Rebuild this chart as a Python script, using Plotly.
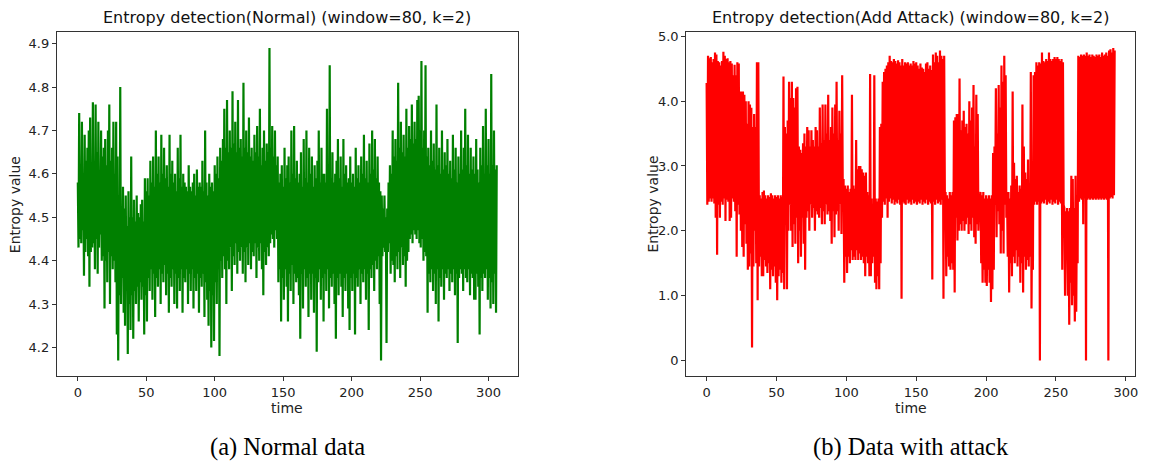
import plotly.graph_objects as go

# ---------------- data (time step 0.5) ----------------
normal_values = [
    4.58, 4.43, 4.74, 4.45, 4.62, 4.44, 4.72, 4.47, 4.60, 4.365, 4.69, 4.42, 4.63, 4.45, 4.66, 4.41, 4.70, 4.34, 4.73, 4.42,
    4.62, 4.43, 4.765, 4.44, 4.60, 4.38, 4.76, 4.45, 4.65, 4.37, 4.72, 4.43, 4.60, 4.46, 4.70, 4.40, 4.64, 4.41, 4.66, 4.29,
    4.68, 4.40, 4.62, 4.35, 4.70, 4.42, 4.76, 4.30, 4.63, 4.41, 4.66, 4.38, 4.72, 4.40, 4.60, 4.35, 4.72, 4.23, 4.64, 4.17,
    4.55, 4.32, 4.80, 4.30, 4.50, 4.36, 4.57, 4.28, 4.52, 4.25, 4.55, 4.33, 4.48, 4.185, 4.56, 4.30, 4.50, 4.24, 4.64, 4.32,
    4.50, 4.22, 4.54, 4.33, 4.49, 4.30, 4.55, 4.34, 4.51, 4.26, 4.50, 4.35, 4.53, 4.31, 4.54, 4.34, 4.49, 4.23, 4.59, 4.32,
    4.56, 4.26, 4.59, 4.36, 4.55, 4.33, 4.63, 4.38, 4.58, 4.31, 4.64, 4.37, 4.57, 4.27, 4.70, 4.36, 4.60, 4.34, 4.64, 4.38,
    4.58, 4.30, 4.69, 4.37, 4.60, 4.35, 4.66, 4.39, 4.59, 4.32, 4.62, 4.37, 4.57, 4.28, 4.69, 4.36, 4.60, 4.34, 4.63, 4.38,
    4.58, 4.30, 4.60, 4.37, 4.56, 4.29, 4.66, 4.36, 4.59, 4.33, 4.69, 4.38, 4.57, 4.28, 4.60, 4.36, 4.58, 4.35, 4.57, 4.38,
    4.56, 4.30, 4.62, 4.37, 4.57, 4.33, 4.56, 4.38, 4.58, 4.29, 4.60, 4.36, 4.55, 4.33, 4.61, 4.37, 4.57, 4.28, 4.58, 4.36,
    4.57, 4.34, 4.63, 4.37, 4.56, 4.27, 4.70, 4.35, 4.58, 4.31, 4.55, 4.25, 4.60, 4.33, 4.57, 4.20, 4.58, 4.32, 4.56, 4.215,
    4.62, 4.35, 4.60, 4.30, 4.64, 4.38, 4.59, 4.18, 4.66, 4.40, 4.63, 4.36, 4.68, 4.41, 4.75, 4.38, 4.66, 4.30, 4.77, 4.40,
    4.65, 4.38, 4.70, 4.43, 4.66, 4.33, 4.79, 4.41, 4.67, 4.39, 4.72, 4.44, 4.65, 4.37, 4.77, 4.42, 4.66, 4.40, 4.68, 4.43,
    4.64, 4.37, 4.81, 4.42, 4.66, 4.35, 4.70, 4.43, 4.65, 4.39, 4.73, 4.44, 4.64, 4.38, 4.66, 4.42, 4.63, 4.41, 4.69, 4.44,
    4.65, 4.36, 4.71, 4.43, 4.64, 4.40, 4.75, 4.44, 4.62, 4.38, 4.66, 4.32, 4.70, 4.42, 4.63, 4.39, 4.67, 4.43, 4.65, 4.41,
    4.89, 4.44, 4.66, 4.46, 4.71, 4.45, 4.64, 4.43, 4.70, 4.47, 4.62, 4.45, 4.64, 4.35, 4.58, 4.38, 4.60, 4.26, 4.62, 4.36,
    4.57, 4.31, 4.66, 4.38, 4.59, 4.34, 4.62, 4.26, 4.64, 4.37, 4.58, 4.33, 4.70, 4.39, 4.60, 4.30, 4.71, 4.37, 4.59, 4.35,
    4.63, 4.36, 4.58, 4.32, 4.60, 4.22, 4.65, 4.37, 4.57, 4.29, 4.68, 4.38, 4.59, 4.34, 4.70, 4.36, 4.58, 4.27, 4.66, 4.37,
    4.60, 4.31, 4.64, 4.37, 4.57, 4.28, 4.62, 4.36, 4.59, 4.19, 4.63, 4.35, 4.70, 4.38, 4.58, 4.31, 4.66, 4.36, 4.60, 4.26,
    4.60, 4.37, 4.58, 4.33, 4.75, 4.38, 4.61, 4.29, 4.85, 4.36, 4.59, 4.34, 4.65, 4.37, 4.58, 4.30, 4.60, 4.22, 4.63, 4.36,
    4.68, 4.32, 4.59, 4.37, 4.64, 4.34, 4.57, 4.27, 4.68, 4.36, 4.60, 4.33, 4.62, 4.37, 4.58, 4.29, 4.59, 4.24, 4.64, 4.36,
    4.58, 4.33, 4.60, 4.37, 4.57, 4.23, 4.66, 4.36, 4.59, 4.34, 4.62, 4.38, 4.58, 4.30, 4.64, 4.37, 4.60, 4.35, 4.69, 4.38,
    4.59, 4.31, 4.63, 4.37, 4.58, 4.24, 4.67, 4.38, 4.60, 4.36, 4.70, 4.39, 4.61, 4.33, 4.68, 4.40, 4.59, 4.38, 4.64, 4.41,
    4.58, 4.30, 4.56, 4.17, 4.55, 4.41, 4.52, 4.43, 4.55, 4.42, 4.50, 4.21, 4.52, 4.42, 4.58, 4.44, 4.62, 4.37, 4.60, 4.40,
    4.70, 4.39, 4.64, 4.35, 4.68, 4.41, 4.63, 4.38, 4.81, 4.42, 4.66, 4.36, 4.72, 4.43, 4.65, 4.39, 4.69, 4.41, 4.64, 4.34,
    4.75, 4.40, 4.66, 4.42, 4.71, 4.45, 4.68, 4.46, 4.76, 4.44, 4.67, 4.47, 4.72, 4.46, 4.68, 4.45, 4.77, 4.47, 4.78, 4.44,
    4.70, 4.43, 4.86, 4.45, 4.66, 4.40, 4.70, 4.42, 4.85, 4.41, 4.64, 4.28, 4.66, 4.37, 4.62, 4.35, 4.70, 4.38, 4.63, 4.33,
    4.67, 4.37, 4.61, 4.30, 4.76, 4.38, 4.62, 4.26, 4.66, 4.36, 4.60, 4.34, 4.70, 4.38, 4.61, 4.31, 4.65, 4.37, 4.62, 4.36,
    4.68, 4.38, 4.60, 4.33, 4.63, 4.37, 4.59, 4.35, 4.69, 4.38, 4.61, 4.32, 4.66, 4.37, 4.58, 4.21, 4.64, 4.36, 4.60, 4.38,
    4.70, 4.37, 4.61, 4.33, 4.66, 4.38, 4.75, 4.36, 4.62, 4.35, 4.69, 4.38, 4.60, 4.32, 4.66, 4.37, 4.61, 4.36, 4.64, 4.31,
    4.60, 4.31, 4.68, 4.37, 4.61, 4.34, 4.58, 4.23, 4.66, 4.36, 4.62, 4.33, 4.71, 4.37, 4.60, 4.36, 4.75, 4.38, 4.62, 4.31,
    4.68, 4.36, 4.60, 4.29, 4.83, 4.35, 4.62, 4.30, 4.70, 4.37, 4.61, 4.28, 4.62,
]
normal_time = [i * 0.5 for i in range(len(normal_values))]

attack_values = [
    4.28, 2.40, 4.70, 2.45, 4.66, 2.50, 4.68, 2.45, 4.60, 2.50, 4.65, 2.42, 4.75, 2.20, 4.72, 1.63, 4.62, 2.40, 4.60, 2.20,
    4.55, 2.45, 4.62, 2.40, 4.76, 2.50, 4.70, 2.15, 4.65, 2.48, 4.66, 2.45, 4.60, 2.15, 4.62, 2.20, 4.58, 2.50, 4.40, 2.45,
    4.56, 2.30, 4.40, 1.60, 4.60, 2.40, 4.58, 2.25, 4.15, 2.00, 4.15, 1.75, 4.15, 1.60, 4.10, 2.10, 4.00, 1.80, 3.65, 1.40,
    4.00, 1.45, 3.95, 1.65, 3.90, 0.20, 3.60, 1.45, 3.80, 2.00, 3.60, 1.50, 4.60, 0.93, 4.60, 1.45, 2.55, 1.60, 2.50, 1.30,
    2.60, 1.30, 2.62, 1.55, 2.55, 1.45, 2.50, 1.35, 2.55, 1.50, 2.52, 1.10, 2.58, 1.40, 2.55, 1.30, 2.50, 1.45, 2.55, 1.20,
    2.52, 0.93, 2.55, 1.30, 2.50, 1.40, 2.55, 1.20, 2.52, 1.35, 4.38, 1.10, 3.60, 2.10, 3.50, 1.10, 3.70, 2.00, 4.30, 2.40,
    4.05, 2.00, 4.30, 1.75, 4.05, 2.10, 3.90, 1.80, 4.20, 2.20, 4.22, 1.50, 3.30, 2.00, 3.25, 1.60, 3.20, 2.20, 3.35, 1.80,
    3.50, 1.40, 3.30, 2.20, 3.60, 2.30, 3.55, 2.00, 3.30, 2.40, 3.55, 2.20, 3.40, 2.35, 3.30, 2.00, 3.60, 2.30, 3.55, 2.25,
    3.30, 2.20, 3.90, 2.35, 3.35, 2.10, 3.95, 2.30, 3.40, 2.10, 3.95, 2.40, 3.50, 2.25, 4.10, 2.30, 3.40, 2.15, 3.60, 1.80,
    3.90, 2.30, 3.50, 1.90, 3.95, 2.25, 4.30, 2.30, 3.40, 2.00, 3.85, 2.40, 3.50, 1.95, 4.40, 2.30, 2.80, 1.20, 2.70, 1.60,
    2.65, 1.35, 2.70, 1.60, 2.60, 1.50, 2.65, 1.70, 4.10, 1.55, 2.70, 1.60, 2.65, 1.55, 3.40, 1.70, 2.95, 1.55, 3.00, 1.65,
    3.00, 1.55, 2.95, 1.60, 2.90, 1.50, 2.85, 1.30, 2.90, 1.60, 2.60, 1.50, 2.55, 1.30, 4.42, 1.30, 2.50, 1.50, 2.40, 1.60,
    4.40, 1.20, 2.50, 1.10, 2.45, 1.30, 2.50, 1.10, 3.60, 1.50, 3.65, 2.20, 4.30, 2.45, 4.45, 2.40, 4.50, 2.50, 4.55, 2.20,
    4.60, 2.45, 4.70, 2.50, 4.62, 2.42, 4.60, 2.48, 4.65, 2.40, 4.62, 2.45, 4.58, 2.42, 4.63, 2.48, 4.60, 2.40, 4.55, 0.95,
    4.65, 2.45, 4.55, 2.42, 4.60, 2.40, 4.58, 2.48, 4.60, 2.42, 4.55, 2.45, 4.58, 2.40, 4.55, 2.48, 4.62, 2.42, 4.58, 2.45,
    4.60, 2.40, 4.55, 2.45, 4.50, 2.42, 4.58, 2.48, 4.52, 2.40, 4.50, 2.45, 4.45, 2.42, 4.58, 2.48, 4.60, 2.40, 4.50, 2.45,
    4.55, 2.42, 4.48, 1.25, 4.72, 2.45, 4.60, 2.40, 4.75, 2.48, 4.70, 2.42, 4.60, 2.45, 4.78, 2.40, 4.70, 2.48, 4.65, 0.95,
    4.70, 2.50, 2.60, 1.30, 2.55, 1.60, 2.50, 1.45, 2.60, 1.40, 2.55, 1.50, 2.60, 1.40, 3.70, 1.05, 3.75, 2.20, 3.80, 1.85,
    3.80, 2.00, 4.35, 2.10, 3.55, 2.00, 3.70, 2.15, 3.85, 2.00, 3.60, 2.10, 3.65, 2.20, 3.50, 1.95, 4.00, 2.10, 3.70, 2.00,
    3.90, 2.20, 4.25, 1.90, 3.30, 1.80, 4.10, 2.10, 3.80, 2.00, 2.55, 2.30, 2.60, 1.50, 2.55, 1.20, 2.60, 1.40, 2.50, 1.20,
    2.55, 1.15, 2.50, 1.40, 2.55, 1.20, 2.50, 0.90, 2.55, 1.10, 3.20, 1.40, 3.30, 2.40, 4.20, 1.90, 3.50, 2.30, 4.25, 2.10,
    3.90, 1.65, 4.55, 2.00, 4.30, 1.65, 4.70, 2.40, 4.40, 2.20, 2.55, 1.60, 2.60, 1.05, 2.50, 1.50, 2.70, 1.30, 4.15, 1.60,
    3.05, 1.50, 2.80, 1.70, 2.85, 1.45, 2.60, 1.60, 2.70, 1.20, 2.65, 1.50, 3.95, 1.05, 3.30, 1.60, 2.90, 1.40, 2.80, 1.55,
    3.10, 1.45, 2.70, 1.60, 4.45, 0.80, 2.60, 1.40, 4.40, 2.40, 4.45, 2.45, 4.60, 2.40, 4.55, 2.45, 4.60, 0.00, 4.58, 2.42,
    4.75, 2.45, 4.62, 2.42, 4.60, 2.48, 4.65, 2.40, 4.62, 2.45, 4.75, 2.42, 4.65, 2.48, 4.62, 2.40, 4.65, 2.45, 4.68, 2.42,
    4.65, 2.48, 4.68, 2.40, 4.65, 2.45, 4.62, 2.42, 4.65, 1.40, 4.60, 2.40, 2.35, 1.00, 2.30, 1.80, 2.35, 1.00, 2.30, 0.55,
    2.35, 1.20, 2.85, 0.85, 2.80, 1.00, 2.35, 0.60, 2.85, 0.75, 2.50, 1.50, 4.70, 2.45, 4.68, 2.50, 4.72, 2.48, 4.70, 2.10,
    4.72, 2.50, 4.70, 0.00, 4.75, 2.48, 4.70, 2.50, 4.72, 2.48, 4.68, 2.50, 4.72, 2.48, 4.70, 2.50, 4.68, 2.48, 4.72, 2.50,
    4.70, 2.48, 4.72, 2.50, 4.68, 2.48, 4.75, 2.50, 4.70, 2.48, 4.72, 2.50, 4.75, 2.48, 4.70, 0.00, 4.78, 2.50, 4.80, 2.52,
    4.75, 2.50, 4.82, 2.55, 4.78,
]
attack_time = [i * 0.5 for i in range(len(attack_values))]

x_ticks = [0, 50, 100, 150, 200, 250, 300]
normal_y_ticks = [4.2, 4.3, 4.4, 4.5, 4.6, 4.7, 4.8, 4.9]
attack_y_ticks = [0, 1, 2, 3, 4, 5]
attack_y_labels = ["0", "1.0", "2.0", "3.0", "4.0", "5.0"]

titles = ["Entropy detection(Normal) (window=80, k=2)",
          "Entropy detection(Add Attack) (window=80, k=2)"]
captions = ["(a) Normal data", "(b) Data with attack"]


def padded(vals):
    lo, hi = min(vals), max(vals)
    m = 0.05 * (hi - lo)
    return [lo - m, hi + m]


# page body has an 8px margin; lay out in reference pixel coords minus 8
OFF = 8
W, H = 1159 - OFF, 464 - OFF
FONT = "DejaVu Sans"


def px(xr):
    return (xr - OFF) / W


def py(yr):
    return 1 - (yr - OFF) / H


fig = go.Figure()
fig.add_trace(go.Scatter(x=normal_time, y=normal_values, mode="lines",
                         line=dict(color="#008000", width=2.2),
                         xaxis="x", yaxis="y", showlegend=False, hoverinfo="skip"))
fig.add_trace(go.Scatter(x=attack_time, y=attack_values, mode="lines",
                         line=dict(color="#ff0000", width=2.2),
                         xaxis="x2", yaxis="y2", showlegend=False, hoverinfo="skip"))

left_dom = [px(57), px(519)]
right_dom = [px(688), px(1138)]
y_dom = [py(375.5), py(29.5)]

axis_common = dict(showline=True, linecolor="#333333", linewidth=1, mirror=True,
                   showgrid=False, zeroline=False, ticks="outside", ticklen=4,
                   tickwidth=1, tickcolor="#333333",
                   tickfont=dict(family=FONT, size=13, color="#222222"))

fig.update_layout(
    width=W, height=H,
    margin=dict(l=0, r=0, t=0, b=0),
    paper_bgcolor="white", plot_bgcolor="white",
    xaxis=dict(domain=left_dom, anchor="y", range=padded(normal_time),
               tickvals=x_ticks, **axis_common),
    yaxis=dict(domain=y_dom, anchor="x", range=padded(normal_values),
               tickvals=normal_y_ticks, ticktext=[f"{v:.1f}" for v in normal_y_ticks],
               **axis_common),
    xaxis2=dict(domain=right_dom, anchor="y2", range=padded(attack_time),
                tickvals=x_ticks, **axis_common),
    yaxis2=dict(domain=y_dom, anchor="x2", range=padded(attack_values),
                tickvals=attack_y_ticks, ticktext=attack_y_labels, **axis_common),
)

anns = []
for dom, title, cap, ylx in [(left_dom, titles[0], captions[0], 15),
                             (right_dom, titles[1], captions[1], 655)]:
    cx = (dom[0] + dom[1]) / 2
    anns.append(dict(x=cx, y=py(15), xref="paper", yref="paper", text=title,
                     showarrow=False, xanchor="center", yanchor="middle",
                     font=dict(family=FONT, size=16, color="#111111")))
    anns.append(dict(x=cx, y=py(408), xref="paper", yref="paper", text="time",
                     showarrow=False, xanchor="center", yanchor="middle",
                     font=dict(family=FONT, size=14, color="#222222")))
    anns.append(dict(x=px(ylx), y=(y_dom[0] + y_dom[1]) / 2, xref="paper", yref="paper",
                     text="Entropy value", textangle=-90, showarrow=False,
                     xanchor="center", yanchor="middle",
                     font=dict(family=FONT, size=14, color="#222222")))
    anns.append(dict(x=cx, y=py(447), xref="paper", yref="paper", text=cap,
                     showarrow=False, xanchor="center", yanchor="middle",
                     font=dict(family="Liberation Serif", size=24.5, color="#000000")))
fig.update_layout(annotations=anns)

fig.write_html("out.html")
